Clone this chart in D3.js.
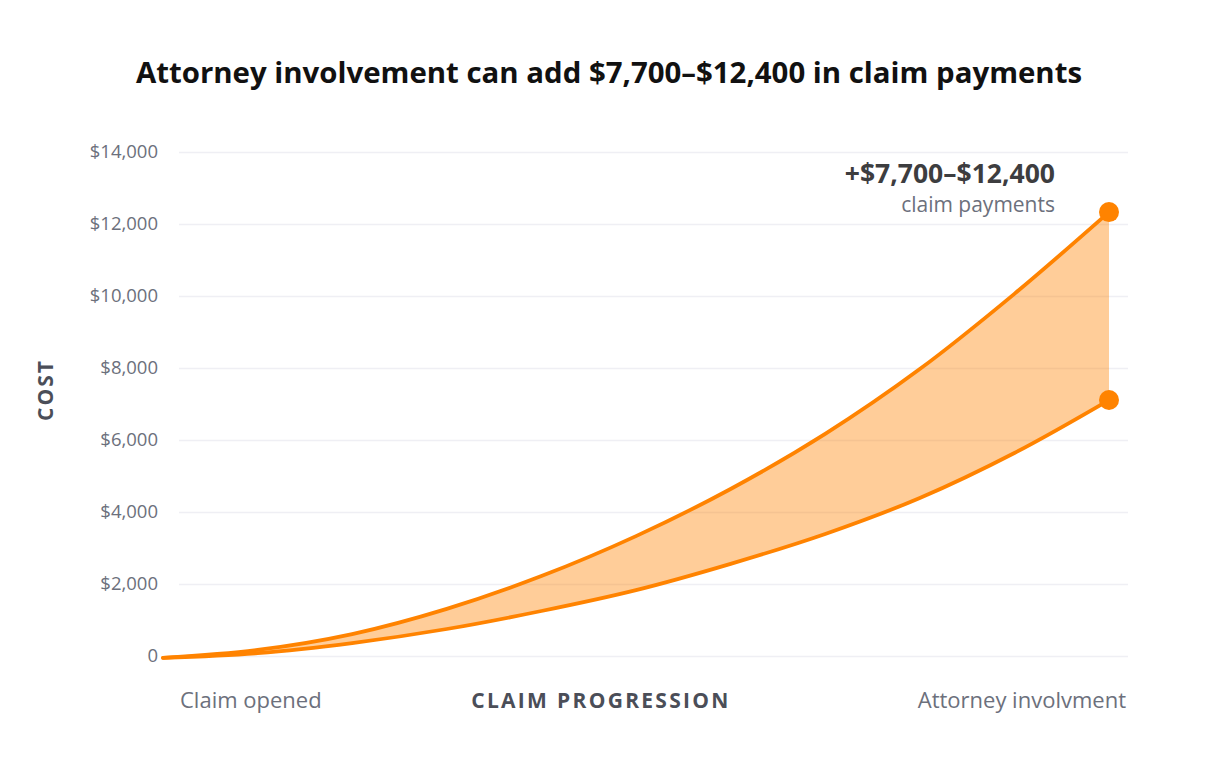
<!DOCTYPE html>
<html>
<head>
<meta charset="utf-8">
<script src="https://cdn.jsdelivr.net/npm/d3@7"></script>
<style>
  body { margin: 0; background: #fff; }
  text { font-family: "Open Sans", Lato, sans-serif; }
</style>
</head>
<body>
<div id="chart"></div>
<script>
let width = 1206;
let height = 776;

// progress along the claim (0 = opened, 100 = attorney involvement)
let progress = [0, 10, 20, 30, 40, 50, 60, 70, 80, 90, 100];
let highCost = [-50, 170, 610, 1310, 2220, 3330, 4640, 6170, 7970, 10060, 12330];
let lowCost = [-50, 80, 360, 750, 1250, 1830, 2560, 3390, 4390, 5640, 7110];
let yTicks = [0, 2000, 4000, 6000, 8000, 10000, 12000, 14000];

let svg = d3.select('#chart').append('svg')
    .attr('width', width).attr('height', height);

let xScale = d3.scaleLinear().domain([0, 100]).range([163, 1109]);
let yScale = d3.scaleLinear().domain([0, 14000]).range([656, 152]);

let orange = '#ff8300';

// gridlines
let yAxis = d3.axisLeft(yScale)
    .tickValues(yTicks)
    .tickSize(-(1128 - 179))
    .tickPadding(21)
    .tickFormat(d => d === 0 ? '0' : d3.format('$,')(d));
let gy = svg.append('g')
    .attr('transform', 'translate(179,0)')
    .call(yAxis);
gy.select('.domain').remove();
gy.selectAll('.tick line').attr('stroke', '#efeff4').attr('stroke-width', 1.5);
gy.selectAll('.tick text')
    .attr('fill', '#6c707c')
    .style('font-size', '18.5px');

let data = progress.map((p, i) => ({ p: p, hi: highCost[i], lo: lowCost[i] }));

let area = d3.area()
    .x(d => xScale(d.p))
    .y0(d => yScale(d.lo))
    .y1(d => yScale(d.hi))
    .curve(d3.curveCatmullRom);

svg.append('path')
    .datum(data)
    .attr('d', area)
    .attr('fill', orange)
    .attr('fill-opacity', 0.4);

let lineHi = d3.line().x(d => xScale(d.p)).y(d => yScale(d.hi)).curve(d3.curveCatmullRom);
let lineLo = d3.line().x(d => xScale(d.p)).y(d => yScale(d.lo)).curve(d3.curveCatmullRom);

[lineLo, lineHi].forEach(l => {
    svg.append('path')
        .datum(data)
        .attr('d', l)
        .attr('fill', 'none')
        .attr('stroke', orange)
        .attr('stroke-width', 3.8)
        .attr('stroke-linecap', 'round');
});

// end dots
let last = data[data.length - 1];
svg.selectAll('circle.end')
    .data([last.hi, last.lo])
    .enter()
    .append('circle')
    .attr('cx', xScale(last.p))
    .attr('cy', d => yScale(d))
    .attr('r', 10)
    .attr('fill', orange);

// title
svg.append('text')
    .attr('x', 609).attr('y', 83)
    .attr('text-anchor', 'middle')
    .attr('fill', '#111')
    .style('font-size', '29.4px')
    .style('font-weight', 'bold')
    .text('Attorney involvement can add $7,700–$12,400 in claim payments');

// annotation
svg.append('text')
    .attr('x', 1055).attr('y', 183)
    .attr('text-anchor', 'end')
    .attr('fill', '#3d3d3f')
    .style('font-size', '26.5px')
    .style('font-weight', 'bold')
    .text('+$7,700–$12,400');
svg.append('text')
    .attr('x', 1055).attr('y', 212)
    .attr('text-anchor', 'end')
    .attr('fill', '#6c707c')
    .style('font-size', '21px')
    .text('claim payments');

// axis titles
svg.append('text')
    .attr('transform', 'translate(53,390) rotate(-90)')
    .attr('text-anchor', 'middle')
    .attr('fill', '#4b4e58')
    .style('font-size', '21px')
    .style('font-weight', 'bold')
    .style('letter-spacing', '2px')
    .text('COST');
svg.append('text')
    .attr('x', 601).attr('y', 708)
    .attr('text-anchor', 'middle')
    .attr('fill', '#4b4e58')
    .style('font-size', '21px')
    .style('font-weight', 'bold')
    .style('letter-spacing', '2.3px')
    .text('CLAIM PROGRESSION');
svg.append('text')
    .attr('x', 180).attr('y', 708)
    .attr('fill', '#6c707c')
    .style('font-size', '22px')
    .text('Claim opened');
svg.append('text')
    .attr('x', 1126).attr('y', 708)
    .attr('text-anchor', 'end')
    .attr('fill', '#6c707c')
    .style('font-size', '22px')
    .text('Attorney involvment');
</script>
</body>
</html>
